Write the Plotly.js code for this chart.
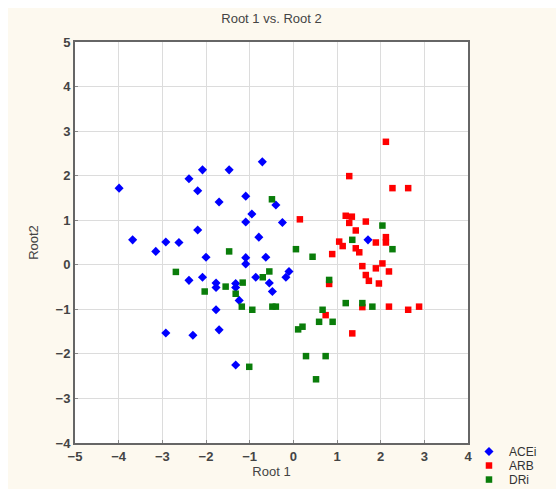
<!DOCTYPE html>
<html>
<head>
<meta charset="utf-8">
<script src="https://cdn.plot.ly/plotly-3.0.1.min.js"></script>
<style>
  html, body { margin: 0; padding: 0; background: #ffffff; }
  #chart { position: absolute; left: 8px; top: 8px; width: 548px; height: 481px; }
</style>
</head>
<body>
<div id="chart"></div>
<script>
// ACEi group (blue diamonds)
const aceiX = [-3.99, -3.68, -3.15, -2.92, -2.62, -2.19, -2.92, -2.30, -2.39, -2.08, -2.19, -1.47, -0.71,
  -1.70, -1.09, -1.09, -0.95, -0.40, -0.25, -0.79, -2.00, -1.09, -1.09, -0.63, -2.08, -2.39,
  -1.77, -1.77, -1.32, -1.32, -1.24, -0.86, -0.55, -0.48, -0.17, -0.10, -1.77, -1.70, -1.32, 1.71];
const aceiY = [1.72, 0.56, 0.30, 0.51, 0.50, 0.78, -1.53, -1.58, 1.93, 2.13, 1.66, 2.13, 2.31,
  1.41, 1.54, 0.96, 1.14, 1.34, 0.95, 0.62, 0.17, 0.16, 0.02, 0.17, -0.28, -0.35,
  -0.41, -0.51, -0.42, -0.51, -0.80, -0.28, -0.41, -0.60, -0.28, -0.15, -1.01, -1.46, -2.25, 0.56];

// ARB group (red squares)
const arbX = [0.15, 1.20, 1.34, 1.28, 1.66, 1.43, 1.89, 2.12, 2.12, 1.05, 1.13, 1.43, 1.51, 0.89,
  1.28, 2.12, 2.27, 2.63, 1.58, 2.04, 1.89, 2.19, 1.66, 1.73, 1.96, 0.82, 1.58, 2.19, 2.63, 2.88,
  0.74, 1.35];
const arbY = [1.02, 1.10, 1.08, 0.94, 0.97, 0.77, 0.50, 0.62, 0.50, 0.52, 0.42, 0.37, 0.28, 0.24,
  1.99, 2.76, 1.72, 1.72, -0.03, 0.03, -0.08, -0.15, -0.23, -0.36, -0.42, -0.43, -0.95, -0.94, -1.01, -0.94,
  -1.13, -1.54];

// DRi group (green squares)
const driX = [-2.69, -2.03, -1.47, -1.55, -1.16, -1.32, -1.18, -0.94, -0.48, -0.40, -0.70, -0.55,
  -0.49, -1.01, 0.06, 0.44, 0.11, 0.21, 0.29, 0.74, 0.52, 0.59, 0.90, 0.67, 0.82, 1.20, 1.58,
  1.81, 2.04, 2.27, 1.35];
const driY = [-0.16, -0.60, 0.30, -0.49, -0.40, -0.65, -0.94, -1.01, -0.94, -0.94, -0.28, -0.15,
  1.47, -2.29, 0.35, 0.18, -1.45, -1.39, -2.05, -2.05, -2.57, -1.28, -1.28, -1.01, -0.34, -0.86, -0.86,
  -0.94, 0.88, 0.35, 0.56];

const seriesNames = ['ACEi', 'ARB', 'DRi'];
const tickVals = [-5, -4, -3, -2, -1, 0, 1, 2, 3, 4, 5];

const traces = [
  { x: aceiX, y: aceiY, name: seriesNames[0], type: 'scatter', mode: 'markers', legend: 'legend',
    marker: { symbol: 'diamond', size: 7, color: '#0000ff' } },
  { x: arbX, y: arbY, name: seriesNames[1], type: 'scatter', mode: 'markers', legend: 'legend2',
    marker: { symbol: 'square', size: 6.5, color: '#ff0000' } },
  { x: driX, y: driY, name: seriesNames[2], type: 'scatter', mode: 'markers', legend: 'legend3',
    marker: { symbol: 'square', size: 6.5, color: '#0a7d0a' } }
];

const fontFam = 'Liberation Sans, Arial, sans-serif';
const axisCommon = {
  showgrid: true, gridcolor: '#dcdcdc', gridwidth: 1,
  zeroline: false, showline: true, linecolor: '#666666', linewidth: 2, mirror: true,
  ticks: 'inside', ticklen: 3, tickcolor: '#888888', tickwidth: 1,
  tickfont: { family: fontFam, size: 13, color: '#444444', weight: 'bold' },
  tickvals: tickVals
};

const legendCommon = { x: 1.0025, xanchor: 'left', yanchor: 'top', bgcolor: 'rgba(0,0,0,0)',
  font: { family: fontFam, size: 12, color: '#333333' }, tracegroupgap: 0 };

const layout = {
  width: 548, height: 481,
  paper_bgcolor: '#fdf9ef', plot_bgcolor: '#ffffff',
  margin: { l: 67, r: 88, t: 34, b: 46, autoexpand: false },
  title: { text: 'Root 1 vs. Root 2', x: 0.5, xanchor: 'center', xref: 'paper', y: 0.978, yanchor: 'middle',
    font: { family: fontFam, size: 13, color: '#444444' } },
  xaxis: Object.assign({}, axisCommon, { range: [-5, 4],
    title: { text: 'Root 1', standoff: 0, font: { family: fontFam, size: 13, color: '#444444' } } }),
  yaxis: Object.assign({}, axisCommon, { range: [-4, 5],
    title: { text: 'Root2', standoff: 14, font: { family: fontFam, size: 13, color: '#444444' } } }),
  showlegend: true,
  legend: Object.assign({}, legendCommon, { y: 0.015 }),
  legend2: Object.assign({}, legendCommon, { y: -0.020 }),
  legend3: Object.assign({}, legendCommon, { y: -0.055 })
};

Plotly.newPlot('chart', traces, layout, { displayModeBar: false, staticPlot: true });
</script>
</body>
</html>
